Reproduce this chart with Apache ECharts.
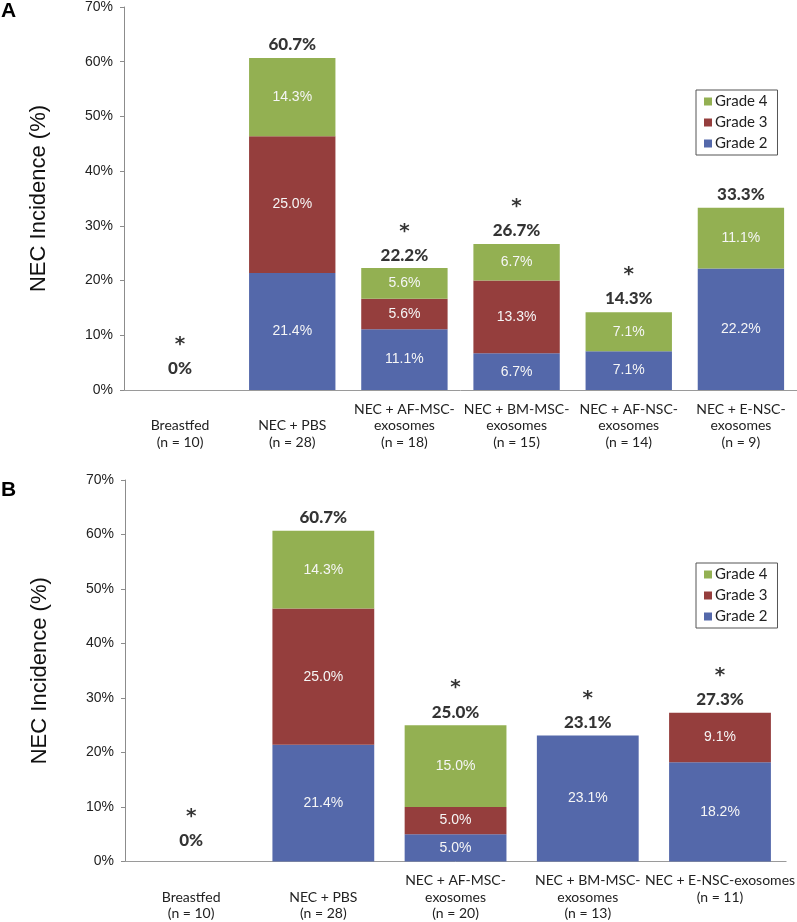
<!DOCTYPE html>
<html>
<head>
<meta charset="utf-8">
<script src="https://cdn.jsdelivr.net/npm/echarts@6/dist/echarts.min.js"></script>
<style>
html,body{margin:0;padding:0;background:#fff;}
#chart{width:797px;height:922px;}
</style>
</head>
<body>
<div id="chart"></div>
<script>
// ---- Panel A data ----
const categoriesA = ['\nBreastfed\n(n = 10)', '\nNEC + PBS\n(n = 28)', 'NEC + AF-MSC-\nexosomes\n(n = 18)', 'NEC + BM-MSC-\nexosomes\n(n = 15)', 'NEC + AF-NSC-\nexosomes\n(n = 14)', 'NEC + E-NSC-\nexosomes\n(n = 9)'];
const grade2A = [null, 21.4, 11.1, 6.7, 7.1, 22.2];
const grade3A = [null, 25.0, 5.6, 13.3, null, null];
const grade4A = [null, 14.3, 5.6, 6.7, 7.1, 11.1];
const totalA = [0, 60.7, 22.2, 26.7, 14.3, 33.3];
const starA = [true, false, true, true, true, false];

// ---- Panel B data ----
const categoriesB = ['\nBreastfed\n(n = 10)', '\nNEC + PBS\n(n = 28)', 'NEC + AF-MSC-\nexosomes\n(n = 20)', 'NEC + BM-MSC-\nexosomes\n(n = 13)', 'NEC + E-NSC-exosomes\n(n = 11)'];
const grade2B = [null, 21.4, 5.0, 23.1, 18.2];
const grade3B = [null, 25.0, 5.0, null, 9.1];
const grade4B = [null, 14.3, 15.0, null, null];
const totalB = [0, 60.7, 25.0, 23.1, 27.3];
const starB = [true, false, true, true, true];

const yTicks = [0, 10, 20, 30, 40, 50, 60, 70];

const C2 = '#5468AA', C3 = '#953E3D', C4 = '#93B052';
const sans = 'Liberation Sans, Arial, sans-serif';
const cal = 'Lato, Open Sans, sans-serif';

function fmt1(v){ return v.toFixed(1) + '%'; }

function stackSeries(name, data, color, idx){
  return {
    name: name, type: 'bar', stack: 's' + idx, xAxisIndex: idx, yAxisIndex: idx,
    barCategoryGap: '23%',
    data: data,
    itemStyle: {color: color},
    label: {show: true, position: 'inside', color: '#f6f6f6', fontFamily: sans, fontSize: 14,
      formatter: p => fmt1(p.value)},
    emphasis: {disabled: true}
  };
}
function totalSeries(totals, stars, idx){
  return {
    type: 'scatter', xAxisIndex: idx, yAxisIndex: idx, symbolSize: 0, silent: true,
    data: totals.map((t, i) => ({
      value: t,
      label: {distance: t === 0 ? 11 : 3}
    })),
    label: {show: true, position: 'top',
      formatter: p => {
        const t = totals[p.dataIndex];
        const txt = t === 0 ? '0%' : fmt1(t);
        return (stars[p.dataIndex] ? '{s|*}\n' : '') + '{t|' + txt + '}';
      },
      rich: {
        s: {fontFamily: 'DejaVu Sans, sans-serif', fontWeight: 'bold', fontSize: 20, lineHeight: 28, color: '#000', align: 'center'},
        t: {fontFamily: cal, fontWeight: 900, fontSize: 17, lineHeight: 20, color: '#000', align: 'center'}
      }
    }
  };
}
function yAxis(idx){
  return {
    gridIndex: idx, type: 'value', min: yTicks[0], max: yTicks[yTicks.length - 1], interval: 10,
    name: 'NEC Incidence (%)', nameLocation: 'middle', nameGap: 74,
    nameTextStyle: {fontFamily: sans, fontSize: 22, color: '#111'},
    axisLine: {show: true, lineStyle: {color: '#8c8c8c'}},
    axisTick: {show: true, length: 4, lineStyle: {color: '#8c8c8c'}},
    axisLabel: {formatter: '{value}%', fontFamily: sans, fontSize: 14, color: '#222', margin: 11},
    splitLine: {show: false}
  };
}
function xAxis(idx, cats){
  return {
    gridIndex: idx, type: 'category', data: cats,
    axisLine: {lineStyle: {color: '#9a9a9a'}},
    axisTick: {show: false},
    axisLabel: {interval: 0, fontFamily: cal, fontSize: 14, lineHeight: 16.5, color: '#222', margin: 11}
  };
}
function legend(top){
  return {
    orient: 'vertical', left: 696, top: top,
    data: ['Grade 4', 'Grade 3', 'Grade 2'],
    icon: 'rect', itemWidth: 8, itemHeight: 8, itemGap: 6,
    padding: [4, 10, 4, 8],
    borderColor: '#555', borderWidth: 1,
    selectedMode: false,
    textStyle: {fontFamily: cal, fontSize: 15, lineHeight: 14, color: '#222', padding: [0, 0, 0, -2]}
  };
}

const chart = echarts.init(document.getElementById('chart'), null, {renderer: 'canvas'});
chart.setOption({
  animation: false,
  backgroundColor: '#fff',
  title: [
    {text: 'A', left: 1, top: 1, textStyle: {fontFamily: sans, fontWeight: 'bold', fontSize: 21, color: '#000'}, padding: 0},
    {text: 'B', left: 1, top: 480, textStyle: {fontFamily: sans, fontWeight: 'bold', fontSize: 21, color: '#000'}, padding: 0}
  ],
  legend: [legend(90), legend(563)],
  grid: [
    {left: 124, right: 0, top: 6, height: 384},
    {left: 125, right: 0, top: 480, height: 385}
  ],
  xAxis: [xAxis(0, categoriesA), xAxis(1, categoriesB)],
  yAxis: [yAxis(0), yAxis(1)],
  series: [
    stackSeries('Grade 2', grade2A, C2, 0),
    stackSeries('Grade 3', grade3A, C3, 0),
    stackSeries('Grade 4', grade4A, C4, 0),
    totalSeries(totalA, starA, 0),
    stackSeries('Grade 2', grade2B, C2, 1),
    stackSeries('Grade 3', grade3B, C3, 1),
    stackSeries('Grade 4', grade4B, C4, 1),
    totalSeries(totalB, starB, 1)
  ]
});
</script>
</body>
</html>
